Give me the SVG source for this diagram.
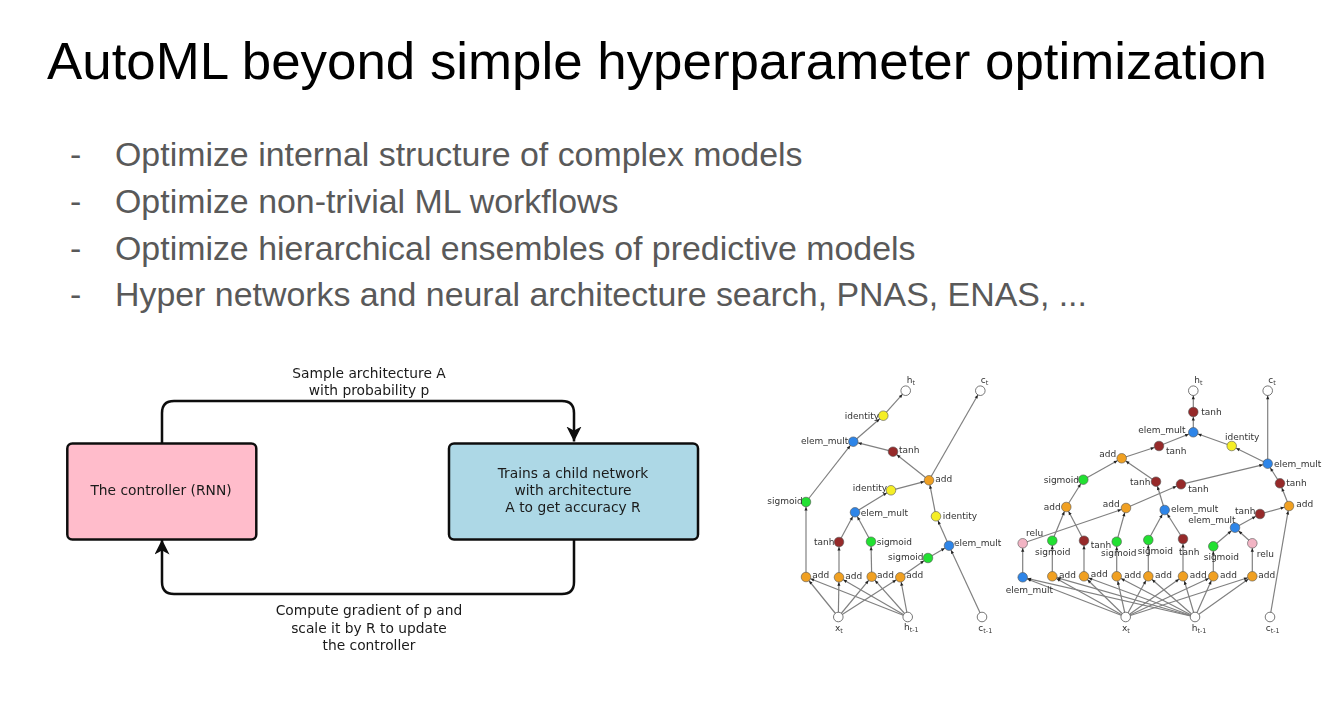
<svg xmlns="http://www.w3.org/2000/svg" width="1339" height="704" viewBox="0 0 1339 704">
<style>
.t{font-family:"Liberation Sans",Arial,sans-serif;font-size:51.5px;fill:#000}
.b{font-family:"Liberation Sans",Arial,sans-serif;font-size:33.9px;fill:#595959}
.d{font-family:"DejaVu Sans",Verdana,sans-serif;font-size:13.8px;fill:#1a1a1a;text-anchor:middle}
.box{stroke:#111;stroke-width:2.5}
.flow{fill:none;stroke:#111;stroke-width:2.5}
.e{stroke:#808080;stroke-width:1.2;fill:none;marker-end:url(#sa)}
.n{stroke:#555;stroke-width:.6}
.l{font-family:"DejaVu Sans",Verdana,sans-serif;font-size:9px;fill:#333}
.s{font-size:6.5px}
.add{fill:#f0a020}.el{fill:#2d85e8}.si{fill:#22e030}.ta{fill:#962a2a}.id{fill:#f5ee28}.re{fill:#f2b4c4}.io{fill:#fff;stroke:#555;stroke-width:.8}
</style>
<defs>
<marker id="sa" markerUnits="userSpaceOnUse" markerWidth="12" markerHeight="6" refX="8.500" refY="3" orient="auto" overflow="visible"><path d="M0,1.400L3.500,3L0,4.600z" fill="#222"/></marker>
<marker id="la" markerUnits="userSpaceOnUse" markerWidth="16" markerHeight="16" refX="15" refY="7.500" orient="auto"><path d="M0,0L15,7.500L0,15L4,7.500z" fill="#111"/></marker>
<filter id="soft" x="-2%" y="-2%" width="104%" height="104%"><feGaussianBlur stdDeviation="0.35"/></filter>
</defs>
<rect width="1339" height="704" fill="#fff"/>
<text class="t" x="47" y="79" textLength="1220" lengthAdjust="spacingAndGlyphs">AutoML beyond simple hyperparameter optimization</text>
<g class="b">
<text x="70" y="166">-</text><text x="115" y="166">Optimize internal structure of complex models</text>
<text x="70" y="213">-</text><text x="115" y="213">Optimize non-trivial ML workflows</text>
<text x="70" y="260">-</text><text x="115" y="260">Optimize hierarchical ensembles of predictive models</text>
<text x="70" y="306">-</text><text x="115" y="306">Hyper networks and neural architecture search, PNAS, ENAS, ...</text>
</g>
<g id="rl-loop" filter="url(#soft)">
<g id="connectors-loop">
<path class="flow" d="M162,443V413Q162,401 174,401H562Q574,401 574,413V441.500" marker-end="url(#la)"/>
<path class="flow" d="M574,539V582Q574,594 562,594H174Q162,594 162,582V539.500" marker-end="url(#la)"/>
</g>
<g id="controller"><rect class="box" x="67.300" y="443.500" width="189" height="96" rx="5" fill="#ffbccb"/><text class="d" x="161" y="495">The controller (RNN)</text></g>
<g id="child"><rect class="box" x="449" y="443.500" width="249" height="96" rx="5" fill="#add8e6"/><text class="d" x="573" y="478">Trains a child network</text><text class="d" x="573" y="495">with architecture</text><text class="d" x="573" y="512">A to get accuracy R</text></g>
<g id="label-sample"><text class="d" x="369" y="378">Sample architecture A</text><text class="d" x="369" y="395">with probability p</text></g>
<g id="label-gradient"><text class="d" x="369" y="615">Compute gradient of p and</text><text class="d" x="369" y="633">scale it by R to update</text><text class="d" x="369" y="650">the controller</text></g>
</g>
<g id="cells" filter="url(#soft)">
<g id="connectors-a">
<line class="e" x1="838.300" y1="617" x2="806" y2="577"/><line class="e" x1="838.300" y1="617" x2="839" y2="577.300"/><line class="e" x1="838.300" y1="617" x2="871.700" y2="576.700"/><line class="e" x1="838.300" y1="617" x2="900.300" y2="577.300"/>
<line class="e" x1="907.700" y1="617" x2="806" y2="577"/><line class="e" x1="907.700" y1="617" x2="839" y2="577.300"/><line class="e" x1="907.700" y1="617" x2="871.700" y2="576.700"/><line class="e" x1="907.700" y1="617" x2="900.300" y2="577.300"/>
<line class="e" x1="806" y1="577" x2="806" y2="502"/><line class="e" x1="839" y1="577.300" x2="839" y2="542"/><line class="e" x1="871.700" y1="576.700" x2="871" y2="541.700"/><line class="e" x1="900.300" y1="577.300" x2="928" y2="558"/>
<line class="e" x1="806" y1="502" x2="853.300" y2="441.700"/><line class="e" x1="853.300" y1="441.700" x2="883.300" y2="415.700"/><line class="e" x1="883.300" y1="415.700" x2="905.700" y2="390.700"/>
<line class="e" x1="839" y1="542" x2="855" y2="512.300"/><line class="e" x1="871" y1="541.700" x2="855" y2="512.300"/><line class="e" x1="855" y1="512.300" x2="891" y2="490.300"/><line class="e" x1="891" y1="490.300" x2="929" y2="480.300"/>
<line class="e" x1="928" y1="558" x2="949" y2="545.700"/><line class="e" x1="982" y1="617" x2="949" y2="545.700"/><line class="e" x1="949" y1="545.700" x2="936" y2="516.300"/><line class="e" x1="936" y1="516.300" x2="929" y2="480.300"/>
<line class="e" x1="929" y1="480.300" x2="893" y2="451.700"/><line class="e" x1="893" y1="451.700" x2="853.300" y2="441.700"/><line class="e" x1="929" y1="480.300" x2="980.300" y2="390.700"/>
</g>
<g id="a-ht"><circle class="io" cx="905.700" cy="390.700" r="4.800"/><text class="l" x="906.700" y="383">h<tspan class="s" dy="2">t</tspan></text></g>
<g id="a-ct"><circle class="io" cx="980.300" cy="390.700" r="4.800"/><text class="l" x="980.700" y="383">c<tspan class="s" dy="2">t</tspan></text></g>
<g id="a-id1"><circle class="n id" cx="883.300" cy="415.700" r="4.800"/><text class="l" x="844.700" y="419">identity</text></g>
<g id="a-el1"><circle class="n el" cx="853.300" cy="441.700" r="4.800"/><text class="l" x="801" y="444">elem_mult</text></g>
<g id="a-ta1"><circle class="n ta" cx="893" cy="451.700" r="4.800"/><text class="l" x="899" y="453">tanh</text></g>
<g id="a-add5"><circle class="n add" cx="929" cy="480.300" r="4.800"/><text class="l" x="935.300" y="482">add</text></g>
<g id="a-id2"><circle class="n id" cx="891" cy="490.300" r="4.800"/><text class="l" x="852.700" y="490.700">identity</text></g>
<g id="a-si1"><circle class="n si" cx="806" cy="502" r="4.800"/><text class="l" x="767.300" y="504">sigmoid</text></g>
<g id="a-el2"><circle class="n el" cx="855" cy="512.300" r="4.800"/><text class="l" x="860.700" y="516">elem_mult</text></g>
<g id="a-id3"><circle class="n id" cx="936" cy="516.300" r="4.800"/><text class="l" x="942.700" y="519">identity</text></g>
<g id="a-ta2"><circle class="n ta" cx="839" cy="542" r="4.800"/><text class="l" x="814" y="545">tanh</text></g>
<g id="a-si2"><circle class="n si" cx="871" cy="541.700" r="4.800"/><text class="l" x="876.700" y="545">sigmoid</text></g>
<g id="a-el3"><circle class="n el" cx="949" cy="545.700" r="4.800"/><text class="l" x="954" y="546.300">elem_mult</text></g>
<g id="a-si3"><circle class="n si" cx="928" cy="558" r="4.800"/><text class="l" x="888" y="560">sigmoid</text></g>
<g id="a-add1"><circle class="n add" cx="806" cy="577" r="4.800"/><text class="l" x="812.300" y="577.700">add</text></g>
<g id="a-add2"><circle class="n add" cx="839" cy="577.300" r="4.800"/><text class="l" x="845.300" y="579">add</text></g>
<g id="a-add3"><circle class="n add" cx="871.700" cy="576.700" r="4.800"/><text class="l" x="877" y="578">add</text></g>
<g id="a-add4"><circle class="n add" cx="900.300" cy="577.300" r="4.800"/><text class="l" x="906.300" y="578">add</text></g>
<g id="a-xt"><circle class="io" cx="838.300" cy="617" r="4.800"/><text class="l" x="835" y="631">x<tspan class="s" dy="2">t</tspan></text></g>
<g id="a-ht1"><circle class="io" cx="907.700" cy="617" r="4.800"/><text class="l" x="904" y="630">h<tspan class="s" dy="2">t-1</tspan></text></g>
<g id="a-ct1"><circle class="io" cx="982" cy="617" r="4.800"/><text class="l" x="978.300" y="631">c<tspan class="s" dy="2">t-1</tspan></text></g>

<g id="connectors-b">
<line class="e" x1="1125.700" y1="617" x2="1022.700" y2="577.300"/><line class="e" x1="1125.700" y1="617" x2="1052.300" y2="576.300"/><line class="e" x1="1125.700" y1="617" x2="1084" y2="576.300"/><line class="e" x1="1125.700" y1="617" x2="1116.700" y2="576.300"/><line class="e" x1="1125.700" y1="617" x2="1148.300" y2="576.300"/><line class="e" x1="1125.700" y1="617" x2="1183" y2="576.300"/><line class="e" x1="1125.700" y1="617" x2="1213.300" y2="576.300"/><line class="e" x1="1125.700" y1="617" x2="1252.300" y2="576.300"/>
<line class="e" x1="1195" y1="617" x2="1022.700" y2="577.300"/><line class="e" x1="1195" y1="617" x2="1052.300" y2="576.300"/><line class="e" x1="1195" y1="617" x2="1084" y2="576.300"/><line class="e" x1="1195" y1="617" x2="1116.700" y2="576.300"/><line class="e" x1="1195" y1="617" x2="1148.300" y2="576.300"/><line class="e" x1="1195" y1="617" x2="1183" y2="576.300"/><line class="e" x1="1195" y1="617" x2="1213.300" y2="576.300"/><line class="e" x1="1195" y1="617" x2="1252.300" y2="576.300"/>
<line class="e" x1="1022.700" y1="577.300" x2="1022.700" y2="543.300"/><line class="e" x1="1052.300" y1="576.300" x2="1052.300" y2="540.700"/><line class="e" x1="1084" y1="576.300" x2="1084" y2="540.700"/><line class="e" x1="1116.700" y1="576.300" x2="1116.700" y2="541.700"/><line class="e" x1="1148.300" y1="576.300" x2="1148.300" y2="540"/><line class="e" x1="1183" y1="576.300" x2="1183" y2="539"/><line class="e" x1="1213.300" y1="576.300" x2="1213.300" y2="546.300"/><line class="e" x1="1252.300" y1="576.300" x2="1252.300" y2="543.300"/>
<line class="e" x1="1022.700" y1="543.300" x2="1126" y2="508"/><line class="e" x1="1052.300" y1="540.700" x2="1066.300" y2="507"/><line class="e" x1="1084" y1="540.700" x2="1066.300" y2="507"/><line class="e" x1="1116.700" y1="541.700" x2="1126" y2="508"/><line class="e" x1="1148.300" y1="540" x2="1164.700" y2="510"/><line class="e" x1="1183" y1="539" x2="1164.700" y2="510"/><line class="e" x1="1213.300" y1="546.300" x2="1235" y2="527.700"/><line class="e" x1="1252.300" y1="543.300" x2="1235" y2="527.700"/>
<line class="e" x1="1235" y1="527.700" x2="1260" y2="514"/><line class="e" x1="1260" y1="514" x2="1289" y2="506"/><line class="e" x1="1270" y1="617" x2="1289" y2="506"/><line class="e" x1="1289" y1="506" x2="1280" y2="483.300"/><line class="e" x1="1280" y1="483.300" x2="1267.700" y2="463.700"/>
<line class="e" x1="1267.700" y1="463.700" x2="1267.700" y2="390.700"/><line class="e" x1="1267.700" y1="463.700" x2="1231.700" y2="446"/><line class="e" x1="1231.700" y1="446" x2="1193.300" y2="432.300"/><line class="e" x1="1193.300" y1="432.300" x2="1193.300" y2="412"/><line class="e" x1="1193.300" y1="412" x2="1193.300" y2="390.700"/>
<line class="e" x1="1126" y1="508" x2="1181" y2="484.300"/><line class="e" x1="1181" y1="484.300" x2="1267.700" y2="463.700"/>
<line class="e" x1="1164.700" y1="510" x2="1156" y2="481.700"/><line class="e" x1="1156" y1="481.700" x2="1121.700" y2="458.300"/><line class="e" x1="1066.300" y1="507" x2="1083.300" y2="479.700"/><line class="e" x1="1083.300" y1="479.700" x2="1121.700" y2="458.300"/><line class="e" x1="1121.700" y1="458.300" x2="1159" y2="446"/><line class="e" x1="1159" y1="446" x2="1193.300" y2="432.300"/>
</g>
<g id="b-ht"><circle class="io" cx="1193.300" cy="390.700" r="4.800"/><text class="l" x="1194.300" y="383">h<tspan class="s" dy="2">t</tspan></text></g>
<g id="b-ct"><circle class="io" cx="1267.700" cy="390.700" r="4.800"/><text class="l" x="1268.300" y="383">c<tspan class="s" dy="2">t</tspan></text></g>
<g id="b-ta1"><circle class="n ta" cx="1193.300" cy="412" r="4.800"/><text class="l" x="1201.300" y="415">tanh</text></g>
<g id="b-el1"><circle class="n el" cx="1193.300" cy="432.300" r="4.800"/><text class="l" x="1138.300" y="433">elem_mult</text></g>
<g id="b-ta2"><circle class="n ta" cx="1159" cy="446" r="4.800"/><text class="l" x="1166" y="454">tanh</text></g>
<g id="b-id"><circle class="n id" cx="1231.700" cy="446" r="4.800"/><text class="l" x="1225" y="440">identity</text></g>
<g id="b-el2"><circle class="n el" cx="1267.700" cy="463.700" r="4.800"/><text class="l" x="1274" y="467">elem_mult</text></g>
<g id="b-add9"><circle class="n add" cx="1121.700" cy="458.300" r="4.800"/><text class="l" x="1099.300" y="457">add</text></g>
<g id="b-si1"><circle class="n si" cx="1083.300" cy="479.700" r="4.800"/><text class="l" x="1043.700" y="483">sigmoid</text></g>
<g id="b-ta3"><circle class="n ta" cx="1156" cy="481.700" r="4.800"/><text class="l" x="1130" y="485">tanh</text></g>
<g id="b-ta4"><circle class="n ta" cx="1181" cy="484.300" r="4.800"/><text class="l" x="1188.300" y="492">tanh</text></g>
<g id="b-ta5"><circle class="n ta" cx="1280" cy="483.300" r="4.800"/><text class="l" x="1286.300" y="486.300">tanh</text></g>
<g id="b-add10"><circle class="n add" cx="1289" cy="506" r="4.800"/><text class="l" x="1296.300" y="507.300">add</text></g>
<g id="b-add11"><circle class="n add" cx="1066.300" cy="507" r="4.800"/><text class="l" x="1043.700" y="510">add</text></g>
<g id="b-add12"><circle class="n add" cx="1126" cy="508" r="4.800"/><text class="l" x="1102.700" y="507.300">add</text></g>
<g id="b-el3"><circle class="n el" cx="1164.700" cy="510" r="4.800"/><text class="l" x="1171" y="511.700">elem_mult</text></g>
<g id="b-ta6"><circle class="n ta" cx="1260" cy="514" r="4.800"/><text class="l" x="1235" y="513.700">tanh</text></g>
<g id="b-el4"><circle class="n el" cx="1235" cy="527.700" r="4.800"/><text class="l" x="1188.300" y="523">elem_mult</text></g>
<g id="b-re1"><circle class="n re" cx="1022.700" cy="543.300" r="4.800"/><text class="l" x="1026" y="536">relu</text></g>
<g id="b-si2"><circle class="n si" cx="1052.300" cy="540.700" r="4.800"/><text class="l" x="1035" y="555.300">sigmoid</text></g>
<g id="b-ta7"><circle class="n ta" cx="1084" cy="540.700" r="4.800"/><text class="l" x="1090.700" y="548">tanh</text></g>
<g id="b-si3"><circle class="n si" cx="1116.700" cy="541.700" r="4.800"/><text class="l" x="1101" y="556.300">sigmoid</text></g>
<g id="b-si4"><circle class="n si" cx="1148.300" cy="540" r="4.800"/><text class="l" x="1137.700" y="553.700">sigmoid</text></g>
<g id="b-ta8"><circle class="n ta" cx="1183" cy="539" r="4.800"/><text class="l" x="1179" y="554.700">tanh</text></g>
<g id="b-si5"><circle class="n si" cx="1213.300" cy="546.300" r="4.800"/><text class="l" x="1203.700" y="559.700">sigmoid</text></g>
<g id="b-re2"><circle class="n re" cx="1252.300" cy="543.300" r="4.800"/><text class="l" x="1256.700" y="557.300">relu</text></g>
<g id="b-el5"><circle class="n el" cx="1022.700" cy="577.300" r="4.800"/><text class="l" x="1005.700" y="593">elem_mult</text></g>
<g id="b-add1"><circle class="n add" cx="1052.300" cy="576.300" r="4.800"/><text class="l" x="1059" y="578">add</text></g>
<g id="b-add2"><circle class="n add" cx="1084" cy="576.300" r="4.800"/><text class="l" x="1090.700" y="577.300">add</text></g>
<g id="b-add3"><circle class="n add" cx="1116.700" cy="576.300" r="4.800"/><text class="l" x="1124.300" y="578">add</text></g>
<g id="b-add4"><circle class="n add" cx="1148.300" cy="576.300" r="4.800"/><text class="l" x="1155" y="578">add</text></g>
<g id="b-add5"><circle class="n add" cx="1183" cy="576.300" r="4.800"/><text class="l" x="1189.700" y="578">add</text></g>
<g id="b-add6"><circle class="n add" cx="1213.300" cy="576.300" r="4.800"/><text class="l" x="1220" y="578">add</text></g>
<g id="b-add7"><circle class="n add" cx="1252.300" cy="576.300" r="4.800"/><text class="l" x="1258.300" y="578">add</text></g>
<g id="b-xt"><circle class="io" cx="1125.700" cy="617" r="4.800"/><text class="l" x="1122" y="631">x<tspan class="s" dy="2">t</tspan></text></g>
<g id="b-ht1"><circle class="io" cx="1195" cy="617" r="4.800"/><text class="l" x="1191.700" y="631">h<tspan class="s" dy="2">t-1</tspan></text></g>
<g id="b-ct1"><circle class="io" cx="1270" cy="617" r="4.800"/><text class="l" x="1265.700" y="631">c<tspan class="s" dy="2">t-1</tspan></text></g>
</g>
</svg>
